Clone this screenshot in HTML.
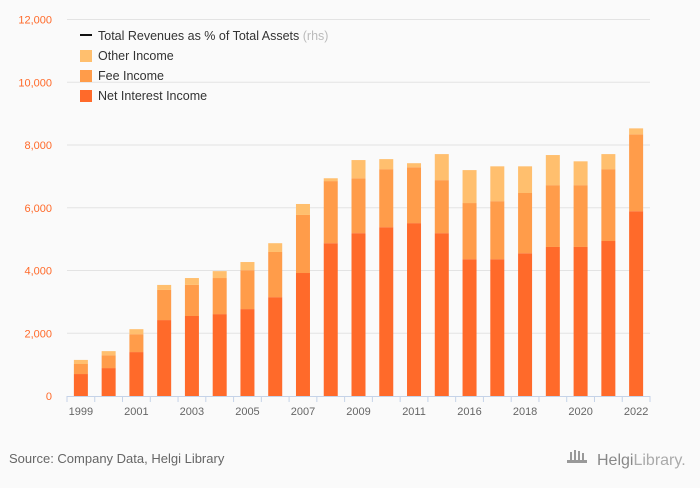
<!DOCTYPE html>
<html><head><meta charset="utf-8">
<style>
html,body{margin:0;padding:0;background:#fafafa;}
body{width:700px;height:483px;overflow:hidden;font-family:"Liberation Sans",sans-serif;}
svg text{font-family:"Liberation Sans",sans-serif;}
</style></head>
<body>
<svg id="chart" width="700" height="483">
<rect width="700" height="483" fill="#fafafa"/>
<g id="grid"></g>
<g id="bars"></g>
<g id="axis"></g>
<g>
 <g>
  <line x1="80" y1="35" x2="92" y2="35" stroke="#111" stroke-width="2"/>
  <text x="98" y="40" font-size="12.5" fill="#333">Total Revenues as % of Total Assets <tspan fill="#bbb">(rhs)</tspan></text>
 </g>
 <g>
  <rect x="80" y="50" width="12" height="12" fill="#ffbf6e"/>
  <text x="98" y="60" font-size="12.5" fill="#333">Other Income</text>
 </g>
 <g>
  <rect x="80" y="70" width="12" height="12" fill="#ff9c4a"/>
  <text x="98" y="80" font-size="12.5" fill="#333">Fee Income</text>
 </g>
 <g>
  <rect x="80" y="90" width="12" height="12" fill="#ff6a2a"/>
  <text x="98" y="100" font-size="12.5" fill="#333">Net Interest Income</text>
 </g>
</g>
<text x="9" y="463" font-size="13" fill="#666">Source: Company Data, Helgi Library</text>
<g>
 <g fill="#999"><rect x="570" y="452" width="2" height="9"/><rect x="574" y="450" width="2" height="11"/><rect x="578" y="451" width="2" height="10"/><rect x="582" y="453" width="2" height="8"/><rect x="567" y="460" width="20" height="3"/></g>
 <text x="597" y="465" font-size="16" fill="#888" font-family="Liberation Serif,serif">Helgi<tspan fill="#aaa">Library.</tspan></text>
</g>
</svg>
<script>
const categories=["1999","2000","2001","2002","2003","2004","2005","2006","2007","2008","2009","2010","2011","2012","2016","2017","2018","2019","2020","2021","2022"];
const netInterest=[700,890,1400,2420,2550,2610,2770,3150,3920,4870,5190,5380,5510,5190,4360,4360,4550,4750,4750,4940,5890];
const feeIncome=[320,410,570,960,990,1150,1240,1440,1850,1980,1750,1850,1780,1690,1790,1850,1920,1970,1970,2290,2450];
const otherIncome=[130,130,160,160,220,220,260,280,350,90,580,320,130,830,1050,1110,850,960,760,480,190];
const yTicks=[0,2000,4000,6000,8000,10000,12000];
const xLabels=["1999","2001","2003","2005","2007","2009","2011","2016","2018","2020","2022"];

const NS="http://www.w3.org/2000/svg";
const x0=67,x1=650,y0=396,yTop=19.5,yMax=12000;
const band=(x1-x0)/categories.length, bw=14;
const y=v=>y0-(v/yMax)*(y0-yTop);
const xc=i=>x0+band*(i+0.5);
function mk(tag,attrs,parent){const e=document.createElementNS(NS,tag);for(const k in attrs)e.setAttribute(k,attrs[k]);parent.appendChild(e);return e;}
const grid=document.getElementById('grid'),bars=document.getElementById('bars'),axis=document.getElementById('axis');
yTicks.forEach(t=>{
 if(t>0){const l=mk('line',{x1:x0,x2:x1,y1:y(t),y2:y(t),stroke:'#e3e3e3','stroke-width':1},grid);
 
 }
 const tx=mk('text',{x:52,y:y(t)+4,'text-anchor':'end','font-size':11,fill:'#ff6a2a'},axis);
 tx.textContent=t.toLocaleString('en-US');
 
 
});
categories.forEach((c,i)=>{
 const segs=[[netInterest[i],'#ff6a2a','bar-net-interest'],[feeIncome[i],'#ff9c4a','bar-fee-income'],[otherIncome[i],'#ffbf6e','bar-other-income']];
 let base=0;
 segs.forEach(s=>{
  const r=mk('rect',{x:xc(i)-bw/2,y:y(base+s[0]),width:bw,height:y(base)-y(base+s[0]),fill:s[1]},bars);
  
  
  base+=s[0];
 });
 const tk=mk('line',{x1:x0+band*i,x2:x0+band*i,y1:y0,y2:y0+6,stroke:'#c5d3e8'},axis);
 
 
 const li=xLabels.indexOf(c);
 if(li>=0){const t=mk('text',{x:xc(i),y:y0+19,'text-anchor':'middle','font-size':11,fill:'#666'},axis);
  t.textContent=c;
  
  }
});
const lt=mk('line',{x1:x1,x2:x1,y1:y0,y2:y0+6,stroke:'#c5d3e8'},axis);


const ax=mk('line',{x1:x0,x2:x1,y1:y0+0.5,y2:y0+0.5,stroke:'#c5d3e8'},axis);


</script>
</body></html>
